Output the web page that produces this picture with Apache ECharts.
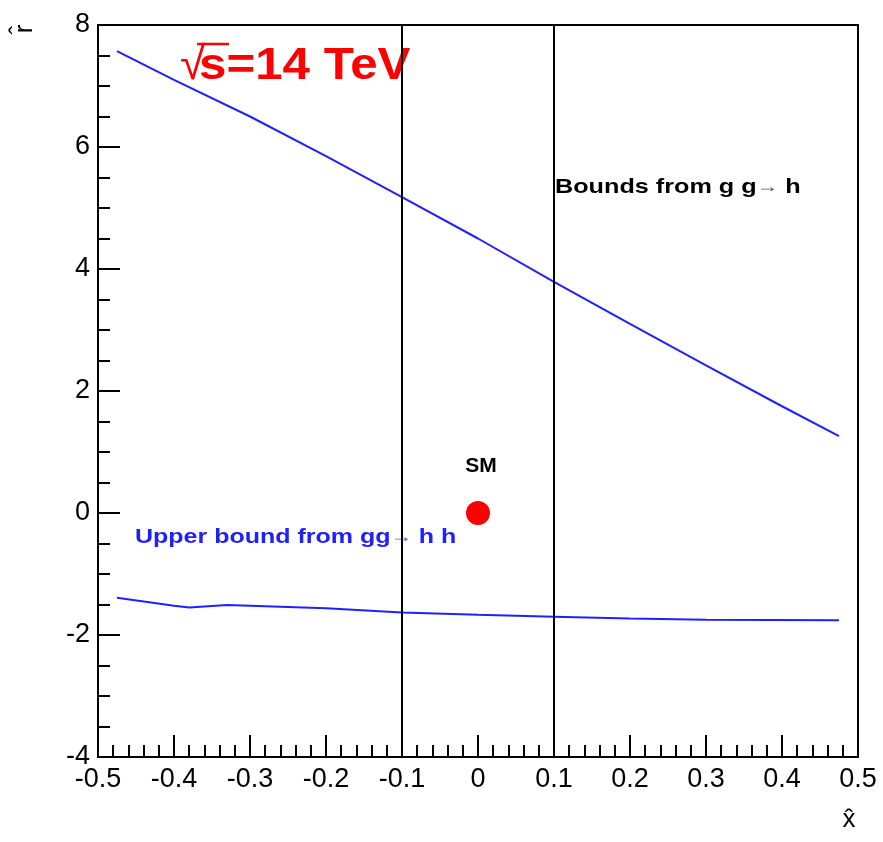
<!DOCTYPE html>
<html><head><meta charset="utf-8">
<script src="https://cdn.jsdelivr.net/npm/echarts@6/dist/echarts.min.js"></script>
<style>html,body{margin:0;padding:0;background:#fff}#c{width:883px;height:842px}</style>
</head><body><div id="c"></div>
<script>
// Data
const upperX = [-0.475, -0.4, -0.3, -0.2, -0.1, 0, 0.1, 0.2, 0.3, 0.4, 0.475];
const upperY = [7.57, 7.1, 6.5, 5.85, 5.18, 4.5, 3.79, 3.1, 2.42, 1.75, 1.26];
const lowerX = [-0.475, -0.4, -0.38, -0.33, -0.2, -0.1, 0, 0.1, 0.2, 0.3, 0.475];
const lowerY = [-1.39, -1.52, -1.55, -1.51, -1.56, -1.63, -1.67, -1.70, -1.73, -1.75, -1.76];
const vlineX = [-0.1, 0.1];
const xRange = [-0.5, 0.5];
const yRange = [-4, 8];
const smPoint = [0, 0];

const FONT = '"Liberation Sans", Arial, Helvetica, sans-serif';
const zip = (a, b) => a.map((v, i) => [v, b[i]]);

const chart = echarts.init(document.getElementById('c'), null, {renderer: 'canvas'});
const axisCommon = {
  axisLine: {show: true, onZero: false, lineStyle: {color: '#000', width: 2}},
  axisTick: {show: true, inside: true, length: 22, lineStyle: {color: '#000', width: 2}},
  minorTick: {show: true, length: 12, lineStyle: {color: '#000', width: 2}},
  splitLine: {show: false},
  minorSplitLine: {show: false},
  axisLabel: {color: '#000', fontSize: 27, fontFamily: FONT}
};
chart.setOption({
  animation: false,
  backgroundColor: '#fff',
  grid: {left: 98, right: 25, top: 25, bottom: 85, show: true, borderColor: '#000', borderWidth: 2, backgroundColor: 'transparent'},
  xAxis: Object.assign({}, axisCommon, {
    type: 'value', min: xRange[0], max: xRange[1], interval: 0.1,
    minorTick: Object.assign({}, axisCommon.minorTick, {splitNumber: 5}),
    axisLabel: Object.assign({}, axisCommon.axisLabel, {margin: 9, formatter: v => String(+v.toFixed(1))})
  }),
  yAxis: Object.assign({}, axisCommon, {
    type: 'value', min: yRange[0], max: yRange[1], interval: 2,
    minorTick: Object.assign({}, axisCommon.minorTick, {splitNumber: 4}),
    axisLabel: Object.assign({}, axisCommon.axisLabel, {margin: 8})
  }),
  series: [
    {type: 'line', data: zip(upperX, upperY), showSymbol: false, lineStyle: {color: '#2020ff', width: 2}, z: 3},
    {type: 'line', data: zip(lowerX, lowerY), showSymbol: false, lineStyle: {color: '#2020ff', width: 2}, z: 3},
    ...vlineX.map(x => ({type: 'line', data: [[x, yRange[0]], [x, yRange[1]]], showSymbol: false, lineStyle: {color: '#000', width: 2}, z: 4})),
    {type: 'scatter', data: [smPoint], symbol: 'circle', symbolSize: 24, itemStyle: {color: '#ff0000', opacity: 1}, z: 5}
  ],
  graphic: [
    {type: 'text', x: 180, y: 66, style: {text: '\u221A', font: '46px ' + FONT, fill: '#ff0000', textVerticalAlign: 'middle'}},
    {type: 'line', shape: {x1: 197, y1: 44, x2: 229, y2: 44}, style: {stroke: '#ff0000', lineWidth: 2.5}},
    {type: 'text', x: 199, y: 67, scaleX: 1.12, style: {text: 's=14 TeV', font: 'bold 44px ' + FONT, fill: '#ff0000', textVerticalAlign: 'middle'}},
    {type: 'text', x: 555, y: 187, scaleX: 1.2, style: {text: 'Bounds from g g{a|\u2192} h', font: 'bold 21px ' + FONT, fill: '#000', textVerticalAlign: 'middle',
      rich: {a: {fontSize: 18, fontWeight: 'normal', fill: '#555', fontFamily: FONT}}}},
    {type: 'text', x: 135, y: 537, scaleX: 1.19, style: {text: 'Upper bound from gg{a|\u2192} h h', font: 'bold 21px ' + FONT, fill: '#2020ff', textVerticalAlign: 'middle',
      rich: {a: {fontSize: 18, fontWeight: 'normal', fill: '#5555ff', fontFamily: FONT}}}},
    {type: 'text', x: 481, y: 466, style: {text: 'SM', font: 'bold 21px ' + FONT, fill: '#000', textAlign: 'center', textVerticalAlign: 'middle'}},
    {type: 'text', x: 25, y: 29, rotation: Math.PI / 2, style: {text: 'r\u0302', font: '26px ' + FONT, fill: '#000', textAlign: 'center', textVerticalAlign: 'middle'}},
    {type: 'text', x: 849, y: 820, style: {text: 'x\u0302', font: '26px ' + FONT, fill: '#000', textAlign: 'center', textVerticalAlign: 'middle'}}
  ]
});
</script></body></html>
